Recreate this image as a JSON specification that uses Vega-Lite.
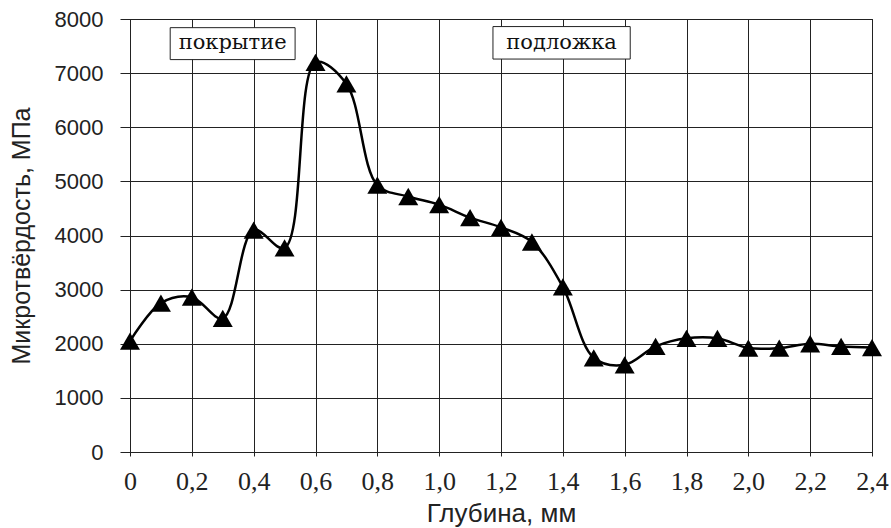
{
  "$schema": "https://vega.github.io/schema/vega-lite/v6.json",
  "width": 742,
  "height": 433,
  "autosize": "none",
  "padding": {"left": 130, "top": 19, "right": 19, "bottom": 76},
  "background": "white",
  "config": {
    "view": {"stroke": "#000", "strokeWidth": 1},
    "axis": {"gridColor": "#222", "gridOpacity": 1, "gridWidth": 1, "domainColor": "#222", "tickColor": "#222"}
  },
  "datasets": {
    "pts": [
      {"depth": 0.0, "hv": 2050}, {"depth": 0.1, "hv": 2750}, {"depth": 0.2, "hv": 2860},
      {"depth": 0.3, "hv": 2470}, {"depth": 0.4, "hv": 4100}, {"depth": 0.5, "hv": 3770},
      {"depth": 0.6, "hv": 7200}, {"depth": 0.7, "hv": 6800}, {"depth": 0.8, "hv": 4930},
      {"depth": 0.9, "hv": 4720}, {"depth": 1.0, "hv": 4570}, {"depth": 1.1, "hv": 4330},
      {"depth": 1.2, "hv": 4150}, {"depth": 1.3, "hv": 3880}, {"depth": 1.4, "hv": 3050},
      {"depth": 1.5, "hv": 1740}, {"depth": 1.6, "hv": 1610}, {"depth": 1.7, "hv": 1950},
      {"depth": 1.8, "hv": 2100}, {"depth": 1.9, "hv": 2100}, {"depth": 2.0, "hv": 1920},
      {"depth": 2.1, "hv": 1920}, {"depth": 2.2, "hv": 2000}, {"depth": 2.3, "hv": 1950},
      {"depth": 2.4, "hv": 1930}
    ],
    "notes": [
      {"label": "покрытие", "x1": 0.13, "x2": 0.534, "y1": 7250, "y2": 7840, "xc": 0.332, "yc": 7550},
      {"label": "подложка", "x1": 1.174, "x2": 1.618, "y1": 7260, "y2": 7860, "xc": 1.396, "yc": 7560}
    ]
  },
  "layer": [
    {
      "data": {"name": "pts"},
      "mark": {"type": "line", "interpolate": "catmull-rom", "color": "#000", "strokeWidth": 2.5},
      "encoding": {
        "x": {
          "field": "depth", "type": "quantitative",
          "scale": {"domain": [0, 2.4], "nice": false, "zero": false},
          "axis": {
            "title": "Глубина, мм",
            "titleFont": "Liberation Sans", "titleFontSize": 26, "titleFontWeight": "normal", "titleColor": "#222",
            "titlePadding": 6,
            "values": [0,0.1,0.2,0.3,0.4,0.5,0.6,0.7,0.8,0.9,1.0,1.1,1.2,1.3,1.4,1.5,1.6,1.7,1.8,1.9,2.0,2.1,2.2,2.3,2.4],
            "labelExpr": "round(datum.value*10)%2==0 ? (datum.value==0 ? '0' : replace(format(datum.value,'.1f'),'.',',')) : ''",
            "labelFont": "Liberation Serif", "labelFontSize": 26, "labelColor": "#222",
            "labelPadding": 12, "labelOverlap": false, "labelFlush": false,
            "tickSize": 4, "grid": true
          }
        },
        "y": {
          "field": "hv", "type": "quantitative",
          "scale": {"domain": [0, 8000], "nice": false},
          "axis": {
            "title": "Микротвёрдость, МПа",
            "titleFont": "Liberation Sans", "titleFontSize": 25, "titleFontWeight": "normal", "titleColor": "#222",
            "titlePadding": 20,
            "values": [0,1000,2000,3000,4000,5000,6000,7000,8000],
            "format": "d",
            "labelFont": "Liberation Sans", "labelFontSize": 22, "labelColor": "#222",
            "labelPadding": 17, "tickSize": 10, "grid": true
          }
        }
      }
    },
    {
      "data": {"name": "pts"},
      "mark": {"type": "point", "shape": "triangle-up", "filled": true, "color": "#000", "opacity": 1, "size": 400},
      "encoding": {
        "x": {"field": "depth", "type": "quantitative"},
        "y": {"field": "hv", "type": "quantitative"}
      }
    },
    {
      "data": {"name": "notes"},
      "mark": {"type": "rect", "fill": "white", "stroke": "#222", "strokeWidth": 1},
      "encoding": {
        "x": {"field": "x1", "type": "quantitative"},
        "x2": {"field": "x2"},
        "y": {"field": "y1", "type": "quantitative"},
        "y2": {"field": "y2"}
      }
    },
    {
      "data": {"name": "notes"},
      "mark": {"type": "text", "font": "DejaVu Serif", "fontSize": 21, "color": "#111", "baseline": "middle", "align": "center"},
      "encoding": {
        "x": {"field": "xc", "type": "quantitative"},
        "y": {"field": "yc", "type": "quantitative"},
        "text": {"field": "label"}
      }
    }
  ]
}
